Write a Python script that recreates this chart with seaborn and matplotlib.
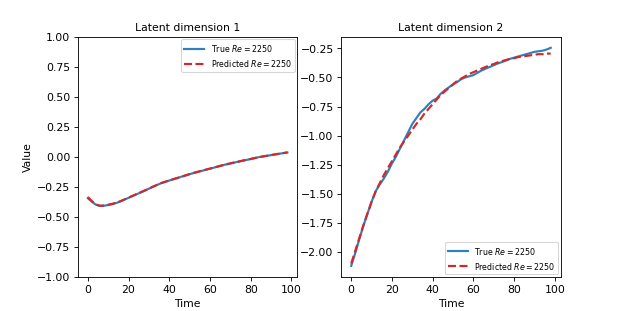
import numpy as np
import matplotlib
matplotlib.use("Agg")
import matplotlib.pyplot as plt
import seaborn as sns

time = np.arange(0, 100, 2)

true_dim1 = [-0.345, -0.375, -0.400, -0.410, -0.408, -0.402, -0.395, -0.385, -0.372, -0.357,
             -0.342, -0.327, -0.312, -0.297, -0.282, -0.266, -0.250, -0.235, -0.220, -0.209,
             -0.198, -0.187, -0.177, -0.166, -0.156, -0.145, -0.135, -0.126, -0.117, -0.108,
             -0.099, -0.090, -0.081, -0.072, -0.063, -0.055, -0.048, -0.040, -0.033, -0.026,
             -0.018, -0.011, -0.003, 0.003, 0.008, 0.014, 0.020, 0.025, 0.031, 0.036]
pred_dim1 = [-0.335, -0.370, -0.398, -0.408, -0.406, -0.400, -0.392, -0.382, -0.370, -0.355,
             -0.340, -0.325, -0.310, -0.295, -0.280, -0.265, -0.249, -0.234, -0.219, -0.208,
             -0.197, -0.186, -0.176, -0.165, -0.155, -0.144, -0.134, -0.125, -0.116, -0.107,
             -0.098, -0.089, -0.080, -0.071, -0.063, -0.055, -0.047, -0.040, -0.032, -0.025,
             -0.018, -0.010, -0.003, 0.003, 0.009, 0.015, 0.020, 0.026, 0.031, 0.037]

true_dim2 = [-2.12, -2.01, -1.89, -1.775, -1.67, -1.57, -1.48, -1.42, -1.37, -1.31,
             -1.24, -1.18, -1.11, -1.04, -0.97, -0.90, -0.85, -0.80, -0.77, -0.73,
             -0.70, -0.68, -0.64, -0.61, -0.585, -0.56, -0.54, -0.515, -0.50, -0.49,
             -0.48, -0.46, -0.44, -0.425, -0.41, -0.395, -0.38, -0.368, -0.355, -0.34,
             -0.33, -0.32, -0.31, -0.30, -0.29, -0.28, -0.275, -0.27, -0.26, -0.245]
pred_dim2 = [-2.10, -1.99, -1.88, -1.77, -1.67, -1.57, -1.48, -1.41, -1.34, -1.28,
             -1.22, -1.16, -1.10, -1.05, -1.00, -0.95, -0.90, -0.86, -0.81, -0.77,
             -0.73, -0.69, -0.65, -0.62, -0.59, -0.56, -0.53, -0.51, -0.49, -0.47,
             -0.455, -0.44, -0.425, -0.41, -0.395, -0.385, -0.37, -0.36, -0.35, -0.34,
             -0.335, -0.325, -0.32, -0.315, -0.31, -0.305, -0.30, -0.30, -0.295, -0.295]

blue = "#2f7fc1"
red = "#d62728"

fig, axes = plt.subplots(1, 2, figsize=(8, 4), dpi=623 / 8)

panels = [(true_dim1, pred_dim1, "Latent dimension 1", "upper right"),
          (true_dim2, pred_dim2, "Latent dimension 2", "lower right")]
for ax, (tv, pv, title, loc) in zip(axes, panels):
    sns.lineplot(x=time, y=tv, ax=ax, color=blue, lw=2, label=r"True $Re = 2250$")
    sns.lineplot(x=time, y=pv, ax=ax, color=red, lw=2, linestyle="--",
                 label=r"Predicted $Re = 2250$")
    ax.set_title(title, fontsize=10)
    ax.set_xlabel("Time")
    ax.set_xticks([0, 20, 40, 60, 80, 100])
    ax.legend(loc=loc, fontsize=7.3, handlelength=2.5, borderaxespad=0.3)

axes[0].set_ylim(-1, 1)
axes[0].set_ylabel("Value")

fig.savefig("out.png")
